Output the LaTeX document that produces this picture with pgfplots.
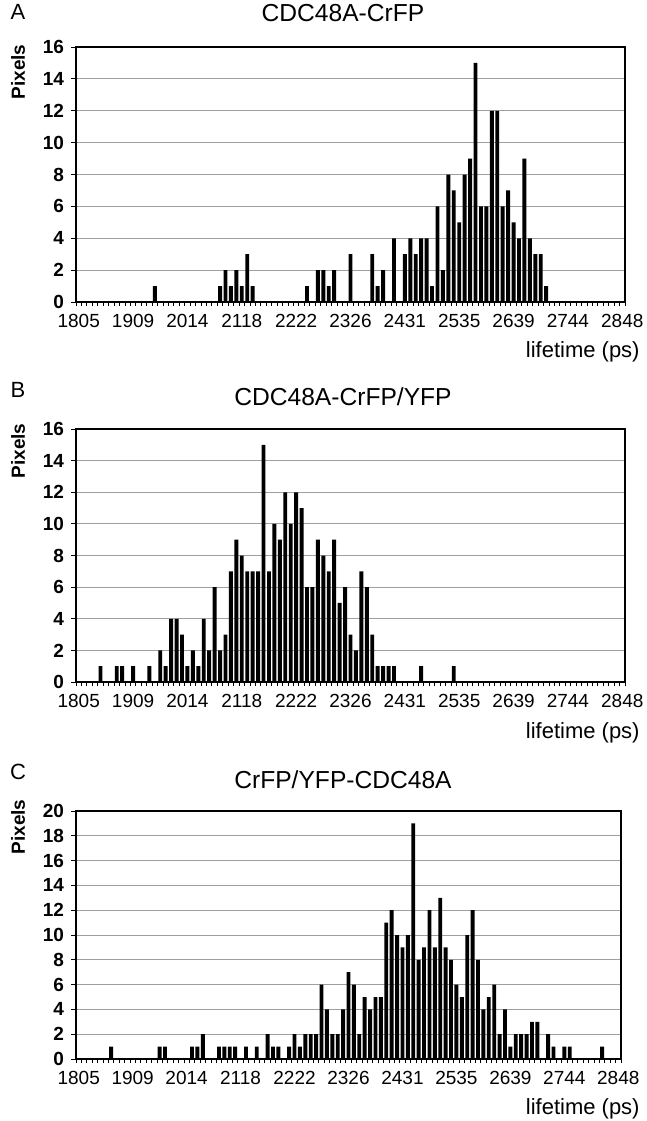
\documentclass[border=0pt]{standalone}
\usepackage{fontspec}
\setmainfont{Liberation Sans}
\usepackage{pgfplots}
\pgfplotsset{compat=1.18}

\pgfplotsset{
  hist/.style={
    scale only axis,
    anchor=south west,
    width=274.5pt,
    xmin=-0.5, xmax=100.5,
    ymin=0,
    ybar, bar width=0.72,
    xtick={0,10,...,100},
    xticklabels={1805,1909,2014,2118,2222,2326,2431,2535,2639,2744,2848},
    major x tick style={draw=none},
    minor xtick={-0.5,0.5,...,100.5},
    tick pos=left,
    tick align=outside,
    major tick length=2.5pt,
    minor tick length=2pt,
    tick style={black, line width=0.4pt},
    ymajorgrids,
    major grid style={gray!75, line width=0.5pt},
    axis line style={line width=0.9pt},
    /pgf/number format/assume math mode=true,
    xticklabel style={font=\fontsize{9.5}{11}\selectfont},
    yticklabel style={font=\bfseries\fontsize{9.5}{11}\selectfont},
  },
  bars/.style={fill=black, draw=none},
}

\begin{document}
\begin{tikzpicture}
\useasboundingbox (0,0) rectangle (323.5pt,-560.5pt);

% A
\begin{axis}[hist, at={(38pt,-151pt)}, height=127.5pt, ymax=16, ytick={0,2,...,16}]
\addplot[bars] coordinates {
(14,1) (26,1) (27,2) (28,1) (29,2) (30,1) (31,3) (32,1) (42,1) (44,2) (45,2) (46,1) (47,2) (50,3)
(54,3) (55,1) (56,2) (58,4) (60,3) (61,4) (62,3) (63,4) (64,4) (65,1) (66,6) (67,2) (68,8) (69,7)
(70,5) (71,8) (72,9) (73,15) (74,6) (75,6) (76,12) (77,12) (78,6) (79,7) (80,5) (81,4) (82,9) (83,4)
(84,3) (85,3) (86,1)
};
\end{axis}

% B
\begin{axis}[hist, at={(38pt,-341pt)}, height=126.5pt, ymax=16, ytick={0,2,...,16}]
\addplot[bars] coordinates {
(4,1) (7,1) (8,1) (10,1) (13,1) (15,2) (16,1) (17,4) (18,4) (19,3) (20,1) (21,2) (22,1) (23,4)
(24,2) (25,6) (26,2) (27,3) (28,7) (29,9) (30,8) (31,7) (32,7) (33,7) (34,15) (35,7) (36,10) (37,9)
(38,12) (39,10) (40,12) (41,11) (42,6) (43,6) (44,9) (45,8) (46,7) (47,9) (48,5) (49,6) (50,3) (51,2)
(52,7) (53,6) (54,3) (55,1) (56,1) (57,1) (58,1) (63,1) (69,1)
};
\end{axis}

% C
\begin{axis}[hist, at={(38pt,-529.5pt)}, width=272.5pt, height=124pt, ymax=20, ytick={0,2,...,20}]
\addplot[bars] coordinates {
(6,1) (15,1) (16,1) (21,1) (22,1) (23,2) (26,1) (27,1) (28,1) (29,1) (31,1) (33,1) (35,2) (36,1)
(37,1) (39,1) (40,2) (41,1) (42,2) (43,2) (44,2) (45,6) (46,4) (47,2) (48,2) (49,4) (50,7) (51,6)
(52,2) (53,5) (54,4) (55,5) (56,5) (57,11) (58,12) (59,10) (60,9) (61,10) (62,19) (63,8) (64,9)
(65,12) (66,9) (67,13) (68,9) (69,8) (70,6) (71,5) (72,10) (73,12) (74,8) (75,4) (76,5) (77,6)
(78,2) (79,4) (80,1) (81,2) (82,2) (83,2) (84,3) (85,3) (87,2) (88,1) (90,1) (91,1) (97,1)
};
\end{axis}

\tikzset{lbl/.style={inner sep=0pt, font=\fontsize{11}{13}\selectfont}}
\node[lbl] at (9pt,-6pt) {A};
\node[lbl] at (9pt,-195pt) {B};
\node[lbl] at (9pt,-386pt) {C};

\node[inner sep=0pt, font=\fontsize{12.3}{14}\selectfont] at (171.5pt,-6.5pt) {CDC48A-CrFP};
\node[inner sep=0pt, font=\fontsize{12.3}{14}\selectfont] at (171.5pt,-198.5pt) {CDC48A-CrFP/YFP};
\node[inner sep=0pt, font=\fontsize{12.3}{14}\selectfont] at (171.5pt,-390pt) {CrFP/YFP-CDC48A};

\node[inner sep=0pt, rotate=90, font=\bfseries\fontsize{9.5}{11}\selectfont] at (9pt,-36pt) {Pixels};
\node[inner sep=0pt, rotate=90, font=\bfseries\fontsize{9.5}{11}\selectfont] at (9pt,-225.5pt) {Pixels};
\node[inner sep=0pt, rotate=90, font=\bfseries\fontsize{9.5}{11}\selectfont] at (9pt,-413.5pt) {Pixels};

\node[inner sep=0pt, anchor=east, font=\fontsize{11}{13}\selectfont] at (320pt,-176pt) {lifetime (ps)};
\node[inner sep=0pt, anchor=east, font=\fontsize{11}{13}\selectfont] at (320pt,-366.5pt) {lifetime (ps)};
\node[inner sep=0pt, anchor=east, font=\fontsize{11}{13}\selectfont] at (320pt,-554.5pt) {lifetime (ps)};
\end{tikzpicture}
\end{document}
